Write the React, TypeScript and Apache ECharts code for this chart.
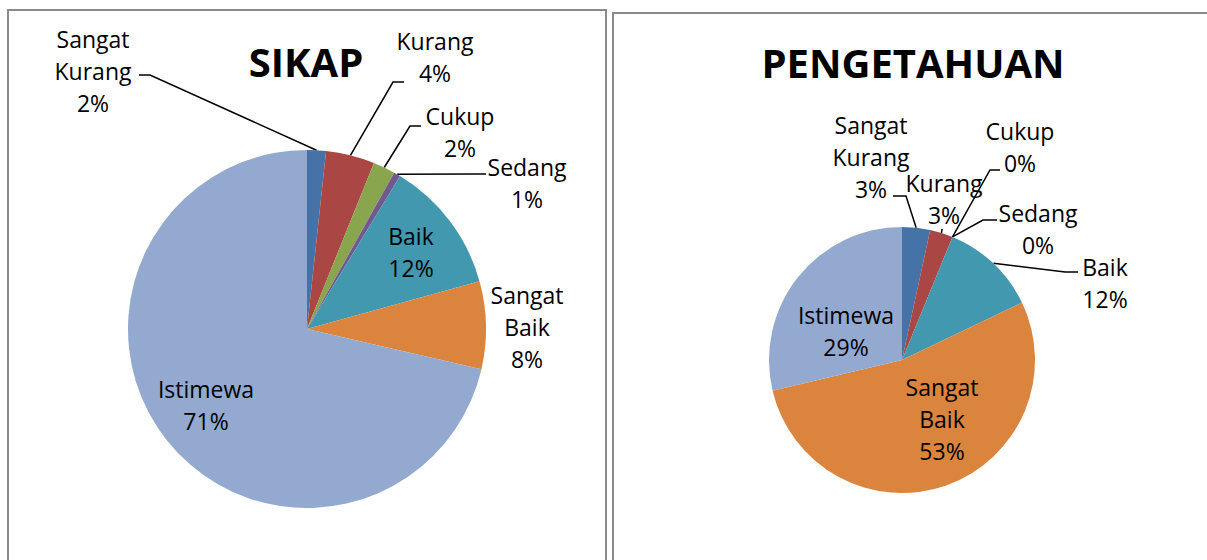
import React, { useEffect, useRef } from 'react';
import * as echarts from 'echarts';

// ---------- data ----------
const categories = ['Sangat Kurang', 'Kurang', 'Cukup', 'Sedang', 'Baik', 'Sangat Baik', 'Istimewa'];
const sikapValues = [1.7, 4.4, 2.0, 0.6, 12.0, 7.9, 71.4];
const pengetahuanValues = [3.4, 2.8, 0, 0, 11.7, 53.4, 28.7];
const chartTitles = ['SIKAP', 'PENGETAHUAN'];

// ---------- styles / layout ----------
const colors = ['#4572A7', '#AA4643', '#89A54E', '#71588F', '#4198AF', '#DB843D', '#93A9CF'];
const FONT = "'Open Sans', sans-serif";

// label centres per series
const labelPos: number[][][] = [
  [[93, 71], [435, 57], [460, 132], [527, 183], [411, 252], [527, 327], [206, 405]],
  [[871, 157], [944, 199], [1020, 147], [1038, 229], [1105, 283], [942, 419], [846, 331]],
];
// leader line bend + end points (start point comes from the pie edge)
const leaders: (number[] | null)[][] = [
  [[150, 75, 139, 75], [393, 82, 404, 82], [410, 126, 421, 126], [475, 174, 486, 174], null, null, null],
  [[906, 196, 893, 196], [942, 229, 942, 229], [990, 170, 1000, 170], [983, 220, 997, 220], [1065, 272, 1078, 272], null, null],
];
const insideItems = [
  [false, false, false, false, true, false, true],
  [false, false, false, false, false, true, true],
];
const lineHidden = [
  [false, false, false, false, true, true, true],
  [false, false, false, false, false, true, true],
];
const pieCenters = [[307, 329], [902, 360]];
const pieRadius = [179, 133];
const titlePos = [[306, 61], [913, 62]];

export default function App() {
  const ref = useRef<HTMLDivElement>(null);
  useEffect(() => {
    if (!ref.current) return;
    const chart = echarts.init(ref.current, null, { renderer: 'svg' });
    const valueSets = [sikapValues, pengetahuanValues];
    const series = valueSets.map((vals, s) => ({
      type: 'pie',
      center: pieCenters[s],
      radius: pieRadius[s],
      startAngle: 90,
      clockwise: true,
      avoidLabelOverlap: false,
      emphasis: { disabled: true },
      itemStyle: { borderWidth: 0 },
      data: categories.map((c, i) => ({
        name: c,
        value: vals[i],
        itemStyle: { color: colors[i] },
        label: { position: insideItems[s][i] ? 'inside' : 'outside' },
        labelLine: { show: !lineHidden[s][i] },
      })),
      label: {
        show: true,
        fontFamily: FONT,
        fontSize: 23,
        lineHeight: 32,
        color: '#000',
        align: 'center',
        formatter: (p: any) => `${p.name.replace(' ', '\n')}\n${Math.round(p.percent)}%`,
      },
      labelLine: { show: true, lineStyle: { color: '#000', width: 1.5 } },
      labelLayout: (p: any) => {
        const pos = labelPos[s][p.dataIndex];
        const lead = leaders[s][p.dataIndex];
        const res: any = { x: pos[0], y: pos[1], align: 'center', verticalAlign: 'middle' };
        if (lead && p.labelLinePoints) {
          res.labelLinePoints = [p.labelLinePoints[0], [lead[0], lead[1]], [lead[2], lead[3]]];
        }
        return res;
      },
    }));
    chart.setOption({
      animation: false,
      backgroundColor: '#fff',
      graphic: [
        { type: 'rect', shape: { x: 8, y: 10, width: 598, height: 600 }, style: { fill: 'none', stroke: '#8a8a8a', lineWidth: 2 } },
        { type: 'rect', shape: { x: 613, y: 13, width: 640, height: 600 }, style: { fill: 'none', stroke: '#8a8a8a', lineWidth: 2 } },
        ...chartTitles.map((t, i) => ({
          type: 'text',
          x: titlePos[i][0],
          y: titlePos[i][1],
          style: { text: t, font: `bold 40px ${FONT}`, fill: '#000', align: 'center', verticalAlign: 'middle' },
        })),
      ],
      series,
    });
    return () => chart.dispose();
  }, []);
  return <div ref={ref} style={{ position: 'absolute', left: 0, top: 0, width: 1207, height: 560 }} />;
}
